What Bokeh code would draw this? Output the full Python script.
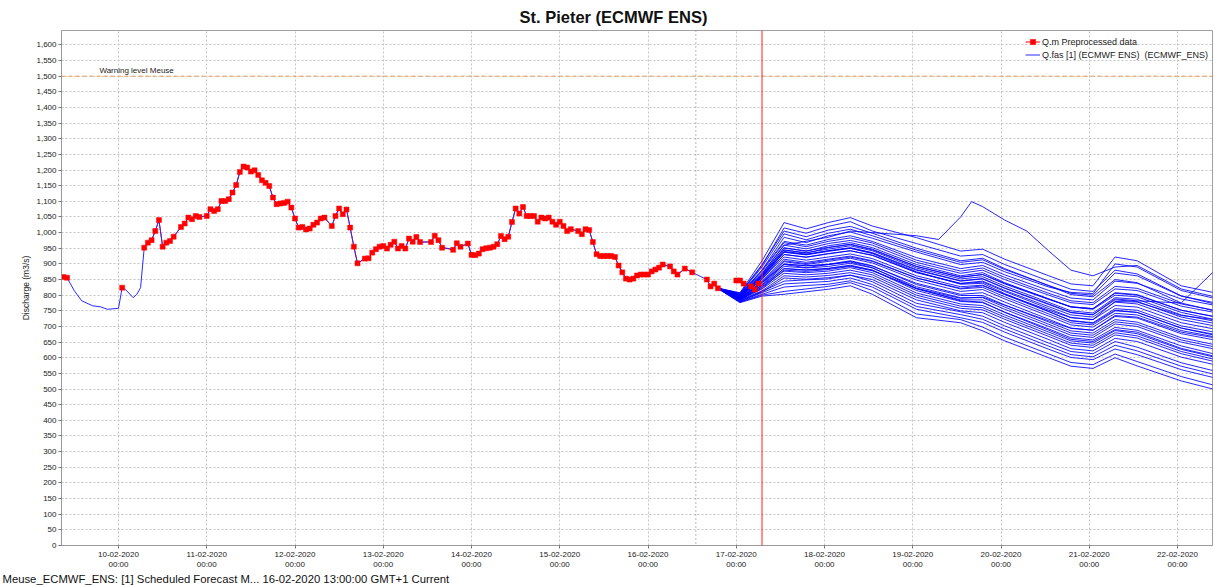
import math
from bokeh.plotting import figure
from bokeh.models import (Range1d, FixedTicker, NumeralTickFormatter, Span, Label,
                          Legend, LegendItem, Title)
from bokeh.embed import file_html
from bokeh.resources import INLINE

# ---------------- data (hours counted from 10-02-2020 00:00) ----------------
day_ticks = [0, 24, 48, 72, 96, 120, 144, 168, 192, 216, 240, 264, 288]
day_labels = ["10-02-2020", "11-02-2020", "12-02-2020", "13-02-2020", "14-02-2020",
              "15-02-2020", "16-02-2020", "17-02-2020", "18-02-2020", "19-02-2020",
              "20-02-2020", "21-02-2020", "22-02-2020"]
y_ticks = list(range(0, 1601, 50))

warning_level = 1500
t0_hour = 157      # 16-02-2020 13:00 forecast time
now_hour = 175     # 17-02-2020 07:00 system time

# Q.m Preprocessed data (observed)
obs_hours = [-15, -14, 1,
             7, 8, 9, 10, 11, 12, 13, 14, 15,
             17, 18, 19, 20, 21, 22,
             24, 25, 26, 27, 28, 29, 30, 31, 32, 33, 34, 35, 36, 37, 38, 39, 40, 41,
             42, 43, 44, 45, 46, 47, 48, 49, 50, 51, 52, 53, 54, 55, 56,
             58, 59, 60, 61, 62, 63, 64, 65,
             67, 68, 69, 70, 71, 72, 73, 74, 75, 76, 77, 78, 79, 80, 81, 82,
             85, 86, 87, 88,
             91, 92, 93,
             95, 96, 97, 98, 99, 100, 101, 102, 103, 104, 105, 106, 107, 108, 109, 110,
             111, 112, 113, 114, 115, 116, 117, 118, 119, 120, 121, 122, 123,
             125, 126, 127, 128, 129, 130, 131, 132, 133, 134, 135, 136, 137, 138, 139,
             140, 141, 142, 143, 144, 145, 146, 147, 148,
             150, 151, 152,
             154, 156,
             160, 161, 162, 163,
             168, 169, 170,
             172, 173, 174]
obs_values = [858, 856, 824,
              952, 968, 976, 1005, 1040, 955, 968, 973, 987,
              1018, 1029, 1048, 1043, 1053, 1050,
              1053, 1075, 1069, 1075, 1101, 1101, 1107, 1128, 1152, 1194, 1211, 1208, 1195, 1199, 1184, 1167, 1159, 1149,
              1112, 1091, 1093, 1095, 1099, 1080, 1045, 1016, 1018, 1010, 1013, 1025, 1032, 1045, 1048,
              1021, 1053, 1077, 1059, 1074, 1016, 955, 902,
              917, 918, 936, 947, 955, 957, 949, 961, 971, 949, 957, 949, 981, 971, 986, 970,
              970, 990, 976, 952,
              945, 966, 955,
              965, 929, 928, 933, 947, 950, 952, 955, 963, 989, 979, 987, 1034, 1077, 1061, 1082,
              1053, 1053, 1053, 1035, 1048, 1045, 1048, 1035, 1025, 1035, 1021, 1005, 1011,
              1005, 995, 1011, 1008, 970, 931, 925, 925, 925, 925, 922, 895, 873, 853, 850,
              853, 863, 866, 866, 866, 876, 882, 888, 898,
              892, 876, 866,
              885, 873,
              850, 828, 837, 822,
              847, 847, 837,
              828, 818, 837]

# Q.fas simulated (historical part) where no observation exists
sim_gap_hours = [-12, -10, -7, -5, -3, 0, 2, 4, 5, 6, 90]
sim_gap_values = [814, 782, 766, 763, 755, 758, 817, 792, 803, 824, 949]
hist_end_hour = 163

# Ensemble members (ECMWF ENS)
ens_hours = [163, 169, 175, 181, 187, 193, 199, 205, 217, 229, 235, 241, 253, 259, 265, 271, 277, 289, 298]
ens_members = [
    [822, 808, 910, 1032, 1012, 1032, 1048, 1021, 984, 941, 947, 915, 862, 836, 830, 922, 910, 830, 808],
    [822, 805, 895, 1015, 998, 1020, 1035, 1005, 965, 925, 930, 898, 845, 819, 812, 880, 868, 798, 772],
    [822, 804, 890, 996, 977, 998, 1011, 990, 944, 905, 913, 882, 831, 806, 800, 871, 862, 797, 776],
    [823, 806, 898, 1005, 987, 1008, 1020, 998, 950, 910, 918, 885, 830, 802, 795, 850, 840, 775, 750],
    [821, 802, 880, 985, 968, 990, 1002, 982, 938, 898, 905, 875, 826, 809, 805, 900, 890, 815, 790],
    [822, 800, 870, 960, 948, 965, 975, 960, 905, 870, 880, 850, 800, 776, 770, 820, 815, 765, 745],
    [823, 801, 876, 968, 955, 972, 983, 967, 912, 877, 887, 857, 806, 782, 776, 828, 822, 772, 752],
    [821, 799, 864, 952, 940, 958, 968, 952, 898, 862, 872, 840, 788, 762, 755, 800, 795, 745, 722],
    [822, 802, 880, 972, 960, 978, 990, 972, 920, 885, 895, 865, 815, 791, 785, 845, 838, 788, 768],
    [821, 798, 860, 945, 934, 952, 962, 945, 892, 857, 866, 836, 786, 763, 757, 806, 800, 752, 732],
    [822, 796, 857, 937, 929, 940, 950, 935, 880, 845, 852, 822, 770, 744, 737, 785, 780, 730, 710],
    [822, 797, 863, 944, 936, 947, 958, 942, 887, 852, 859, 829, 777, 750, 743, 792, 787, 737, 717],
    [821, 795, 851, 930, 922, 933, 942, 928, 873, 838, 845, 815, 763, 737, 730, 778, 772, 722, 702],
    [822, 797, 860, 940, 931, 942, 950, 933, 875, 835, 838, 805, 748, 718, 710, 752, 745, 695, 672],
    [823, 798, 866, 950, 942, 953, 963, 947, 892, 858, 866, 838, 788, 763, 757, 808, 802, 752, 731],
    [822, 792, 845, 915, 905, 915, 925, 910, 855, 820, 825, 795, 740, 712, 705, 750, 745, 695, 675],
    [822, 793, 851, 922, 912, 922, 932, 917, 862, 827, 832, 802, 747, 719, 712, 757, 752, 702, 682],
    [821, 791, 839, 907, 898, 908, 918, 903, 848, 812, 818, 788, 733, 705, 698, 742, 737, 687, 667],
    [823, 794, 855, 930, 921, 932, 942, 927, 872, 837, 842, 812, 757, 729, 722, 767, 762, 712, 692],
    [821, 790, 833, 898, 888, 898, 908, 893, 838, 803, 808, 778, 723, 695, 688, 732, 727, 677, 657],
    [822, 792, 842, 910, 901, 912, 922, 908, 855, 822, 830, 803, 752, 728, 722, 780, 778, 735, 722],
    [822, 788, 832, 892, 887, 892, 902, 887, 827, 792, 792, 762, 707, 679, 672, 715, 707, 657, 635],
    [822, 789, 838, 899, 894, 899, 910, 894, 834, 799, 799, 769, 714, 686, 679, 722, 714, 664, 642],
    [821, 787, 826, 885, 880, 885, 894, 880, 820, 785, 785, 755, 700, 672, 665, 708, 700, 650, 628],
    [822, 789, 840, 900, 894, 898, 906, 888, 822, 782, 778, 745, 688, 659, 652, 690, 682, 630, 605],
    [821, 786, 822, 880, 876, 882, 892, 878, 822, 790, 794, 768, 718, 694, 688, 735, 730, 682, 664],
    [822, 785, 820, 870, 865, 870, 880, 865, 800, 765, 760, 730, 675, 647, 640, 680, 670, 620, 595],
    [822, 786, 826, 877, 872, 877, 888, 872, 807, 772, 767, 737, 682, 654, 647, 687, 677, 627, 602],
    [821, 784, 814, 862, 858, 863, 872, 858, 793, 758, 753, 723, 668, 640, 633, 673, 663, 613, 588],
    [822, 787, 830, 885, 881, 886, 896, 880, 815, 780, 776, 746, 692, 664, 657, 697, 688, 638, 612],
    [821, 783, 810, 855, 851, 856, 864, 850, 785, 750, 744, 713, 658, 629, 622, 662, 652, 602, 578],
    [822, 780, 808, 836, 840, 844, 855, 834, 764, 738, 723, 692, 637, 610, 603, 640, 622, 573, 547],
    [822, 781, 812, 845, 849, 852, 864, 843, 774, 747, 733, 702, 647, 620, 613, 652, 634, 584, 558],
    [821, 779, 803, 826, 831, 835, 846, 826, 755, 728, 713, 682, 627, 601, 594, 628, 610, 562, 536],
    [822, 776, 797, 803, 811, 819, 830, 803, 728, 712, 686, 654, 600, 573, 566, 600, 574, 526, 499],
    [822, 778, 800, 812, 820, 828, 840, 815, 740, 722, 698, 666, 612, 585, 578, 612, 588, 540, 512],
    [822, 797, 858, 938, 930, 942, 952, 936, 882, 846, 853, 823, 772, 745, 738, 788, 782, 775, 878],
]
outlier_hours = [163, 169, 175, 181, 193, 199, 205, 217, 223, 229, 232, 235, 241, 247, 253,
                 259, 265, 271, 277, 289, 298]
outlier_values = [822, 800, 868, 960, 985, 1005, 1000, 990, 978, 1050, 1099, 1083, 1040, 1005,
                  941, 880, 862, 890, 895, 820, 795]

assert len(obs_hours) == len(obs_values)
assert all(len(m) == len(ens_hours) for m in ens_members)
assert len(outlier_hours) == len(outlier_values)

# ---------------- derived series ----------------
# observed line broken where data are missing for 4 h or more
red_x, red_y = [], []
for i, (h, v) in enumerate(zip(obs_hours, obs_values)):
    if i > 0 and h - obs_hours[i - 1] >= 4:
        red_x.append(h - 0.5)
        red_y.append(float("nan"))
    red_x.append(h)
    red_y.append(v)

hist = sorted([(h, v) for h, v in zip(obs_hours, obs_values) if h <= hist_end_hour] +
              list(zip(sim_gap_hours, sim_gap_values)))
hist_x = [h for h, _ in hist]
hist_y = [v for _, v in hist]

ens_xs = [ens_hours for _ in ens_members] + [outlier_hours]
ens_ys = [m for m in ens_members] + [outlier_values]

# ---------------- figure ----------------
FONT = "Liberation Sans"
p = figure(width=1215, height=585, title="St. Pieter (ECMWF ENS)",
           x_range=Range1d(-15.5, 297.5), y_range=Range1d(0, 1646),
           output_backend="svg", toolbar_location=None,
           min_border_left=61, min_border_right=3, min_border_top=30, min_border_bottom=40)
p.outline_line_color = "#a0a0a0"
p.background_fill_color = "white"

p.title.align = "left"
p.title.offset = 458
p.title.text_font = FONT
p.title.text_font_size = "16.5px"
p.title.text_font_style = "bold"
p.title.text_color = "#111111"

grid_color = "#c4c4c4"
p.xgrid.grid_line_color = grid_color
p.ygrid.grid_line_color = grid_color
p.xgrid.grid_line_dash = "2 2"
p.ygrid.grid_line_dash = "2 2"

p.xaxis.ticker = FixedTicker(ticks=day_ticks)
p.xaxis.major_label_overrides = {h: f"{d}\n00:00" for h, d in zip(day_ticks, day_labels)}
p.yaxis.ticker = FixedTicker(ticks=y_ticks)
p.yaxis.formatter = NumeralTickFormatter(format="0,0")
p.yaxis.axis_label = "Discharge (m3/s)"
for ax in (p.xaxis[0], p.yaxis[0]):
    ax.axis_line_color = "#999999"
    ax.major_tick_line_color = "#777777"
    ax.major_tick_out = 3
    ax.major_tick_in = 0
    ax.minor_tick_line_color = None
    ax.major_label_text_font = FONT
    ax.major_label_text_font_size = "8px"
    ax.major_label_text_color = "#222222"
    ax.major_label_standoff = 2
p.xaxis.major_label_standoff = 1
p.yaxis.axis_label_text_font = FONT
p.yaxis.axis_label_text_font_size = "8.5px"
p.yaxis.axis_label_text_font_style = "normal"
p.yaxis.axis_label_text_color = "#222222"
p.yaxis.axis_label_standoff = 2

# footer line below the axis
p.add_layout(Title(text="Meuse_ECMWF_ENS: [1] Scheduled Forecast M... 16-02-2020 13:00:00 GMT+1 Current",
                   align="left", offset=-59, standoff=-3, text_font=FONT, text_font_size="11.3px",
                   text_font_style="normal", text_color="#111111"), "below")

# reference lines
p.add_layout(Span(location=warning_level, dimension="width", line_color="#eb9a55",
                  line_dash="4 3", line_width=1))
p.add_layout(Span(location=t0_hour, dimension="height", line_color="#707070",
                  line_dash="1 3", line_width=1))
p.add_layout(Label(x=-5.2, y=warning_level, text="Warning level Meuse", text_font=FONT,
                   text_font_size="8px", text_color="#222222", text_baseline="bottom",
                   y_offset=1))

# series
red_line = p.line(red_x, red_y, line_color="#ff0000", line_width=1)
hist_line = p.line(hist_x, hist_y, line_color="#2a2aff", line_width=1)
p.multi_line(ens_xs, ens_ys, line_color="#0000ff", line_width=1, line_alpha=0.85)
squares = p.scatter(obs_hours, obs_values, marker="square", size=5,
                    fill_color="#ff0000", line_color="#ff0000", line_width=0.5)

p.add_layout(Span(location=now_hour, dimension="height", line_color="#ff2020", line_width=1))

legend = Legend(items=[LegendItem(label="Q.m Preprocessed data", renderers=[red_line, squares]),
                       LegendItem(label="Q.fas [1] (ECMWF ENS)  (ECMWF_ENS)", renderers=[hist_line])],
                location=(964, 484), border_line_color=None, background_fill_alpha=0,
                padding=0, margin=0, spacing=0, label_standoff=2,
                glyph_width=15, glyph_height=13, label_height=13,
                label_text_font=FONT, label_text_font_size="9px", label_text_color="#222222")
p.add_layout(legend)

open("out.html", "w").write(file_html(p, INLINE))
